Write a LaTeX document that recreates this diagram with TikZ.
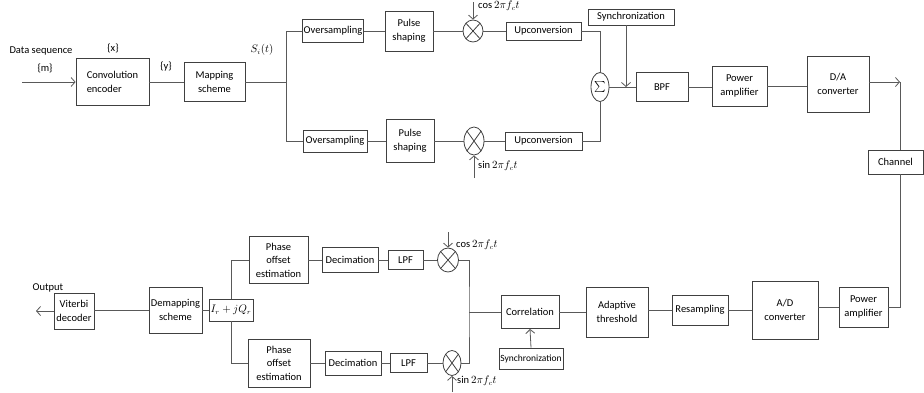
\documentclass[tikz,border=0pt]{standalone}
\usepackage{fontspec}
\setmainfont{Carlito}
\usepackage{amsmath}
\usepackage{tikz}
\usepackage{xcolor}
\usetikzlibrary{shapes.geometric,arrows.meta}

\tikzset{
  blk/.style={draw=black!75, line width=0.8pt, inner sep=1pt, align=center, font=\fontsize{10.5}{13.5}\selectfont},
  mixer/.style={draw=black!75, line width=0.8pt, ellipse, inner sep=0pt, minimum width=20pt, minimum height=24pt,
    path picture={\draw[black!75, line width=0.8pt] (path picture bounding box.north west) -- (path picture bounding box.south east)
      (path picture bounding box.north east) -- (path picture bounding box.south west);}},
  wire/.style={black!65, line width=0.8pt},
  lbl/.style={inner sep=0pt, font=\fontsize{10.5}{13.5}\selectfont},
}

\begin{document}
\begin{tikzpicture}[x=1pt, y=-1pt, >={Straight Barb[length=4pt,width=9pt]}]
        \useasboundingbox (0,0) rectangle (924,392);

        \node[blk, align=left, minimum width=73pt, minimum height=47pt] (enc) at (112.5,82) {Convolution\\encoder};
        \node[blk, minimum width=61pt, minimum height=39pt] (map) at (214.5,82) {Mapping\\scheme};
        \coordinate (split) at (286,82);
        \node[blk, minimum width=60pt, minimum height=23pt] (os1) at (333,31) {Oversampling};
        \node[blk, minimum width=48pt, minimum height=40pt] (ps1) at (409,31) {Pulse\\shaping};
        \node[mixer, minimum height=22pt] (mx1) at (473,31) {};
        \node[blk, minimum width=75pt, minimum height=18pt] (up1) at (543.5,31) {Upconversion};
        \node[blk, minimum width=64pt, minimum height=22pt] (os2) at (335,141) {Oversampling};
        \node[blk, minimum width=48pt, minimum height=43pt] (ps2) at (410,141) {Pulse\\shaping};
        \node[mixer, minimum height=28pt] (mx2) at (474,141) {};
        \node[blk, minimum width=77pt, minimum height=18pt] (up2) at (543.5,141) {Upconversion};
        \node[blk, ellipse, inner sep=0pt, minimum width=18pt, minimum height=29pt, font=\fontsize{11}{11}\selectfont] (sum) at (600,87) {$\sum$};
        \node[blk, minimum width=86pt, minimum height=16pt] (syn1) at (631,17) {Synchronization};
        \node[blk, minimum width=52pt, minimum height=29pt] (bpf) at (662,87) {BPF};
        \node[blk, minimum width=55pt, minimum height=40pt] (pa1) at (739.5,86) {Power\\amplifier};
        \node[blk, minimum width=62pt, minimum height=56pt] (da) at (838,84) {D/A\\converter};
        \node[blk, minimum width=55pt, minimum height=24pt] (chan) at (895.5,162) {Channel};
        \coordinate (src) at (22,82);
        \coordinate (c1) at (900,82);
        \coordinate (lo1) at (473,2);
        \coordinate (lo2) at (474,178);

        \node[lbl] (dseq) at (41,51) {Data sequence};
        \node[lbl] (mlbl) at (45,68) {\{m\}};
        \node[lbl] (xlbl) at (113,48) {\{x\}};
        \node[lbl] (ylbl) at (166,67) {\{y\}};
        \node[lbl] (slbl) at (262,50) {$S_i(t)$};
        \node[lbl, anchor=west] (cos1) at (478,6) {$\cos 2\pi f_c t$};
        \node[lbl, anchor=west] (sin1) at (478,166) {$\sin 2\pi f_c t$};

        \draw[wire, ->] (src) -- (enc.west);
        \draw[wire] (enc.east) -- (map.west);
        \draw[wire] (map.east) -- (split);
        \draw[wire] (split) |- (os1.west);
        \draw[wire] (split) |- (os2.west);
        \draw[wire] (os1) -- (ps1) -- (mx1) -- (up1);
        \draw[wire] (os2) -- (ps2) -- (mx2) -- (up2);
        \draw[wire, ->] (lo1) -- (mx1.north);
        \draw[wire, ->] (lo2) -- (mx2.south);
        \draw[wire] (up1.east) -| (sum.north);
        \draw[wire] (up2.east) -| (sum.south);
        \draw[wire] (sum.east) -- (bpf.west);
        \draw[wire, ->] ([xshift=-5pt]syn1.south) -- ([xshift=-5pt]syn1.south |- bpf.west);
        \draw[wire] (bpf.east) -- (bpf.east -| pa1.west);
        \draw[wire] (pa1.east) -- (pa1.east -| da.west);
        \draw[wire, ->] (da.east |- c1) -- (c1);
        \draw[wire] (c1) -- (c1 |- chan.north);

        \node[blk, minimum width=49pt, minimum height=40pt] (pa2) at (863.5,307) {Power\\amplifier};
        \node[blk, minimum width=66pt, minimum height=58pt] (ad) at (785,310) {A/D\\converter};
        \node[blk, minimum width=56pt, minimum height=30pt] (res) at (700,310) {Resampling};
        \node[blk, minimum width=62pt, minimum height=50pt] (adp) at (617,312) {Adaptive\\threshold};
        \node[blk, minimum width=58pt, minimum height=33pt] (cor) at (530,312) {Correlation};
        \node[blk, font=\fontsize{9.5}{11}\selectfont, minimum width=64pt, minimum height=21pt] (syn2) at (531,358.5) {Synchronization};
        \coordinate (jn) at (469,312);
        \node[mixer, minimum width=21pt, minimum height=24pt] (mx3) at (448,260) {};
        \node[mixer, minimum width=18pt, minimum height=25pt] (mx4) at (452,363) {};
        \node[blk, minimum width=35pt, minimum height=19pt] (lpf1) at (405.5,260) {LPF};
        \node[blk, minimum width=56pt, minimum height=25pt] (dec1) at (350,260) {Decimation};
        \node[blk, minimum width=59pt, minimum height=47pt] (poe1) at (278.5,260) {Phase\\offset\\estimation};
        \node[blk, minimum width=37pt, minimum height=19pt] (lpf2) at (408.5,363) {LPF};
        \node[blk, minimum width=56pt, minimum height=24pt] (dec2) at (353,363) {Decimation};
        \node[blk, minimum width=62pt, minimum height=48pt] (poe2) at (279,363) {Phase\\offset\\estimation};
        \node[blk, minimum width=44pt, minimum height=22pt] (iq) at (231,310) {$I_r + jQ_r$};
        \node[blk, minimum width=53pt, minimum height=46pt] (dem) at (175.5,310) {Demapping\\scheme};
        \node[blk, minimum width=40pt, minimum height=36pt] (vit) at (74,311) {Viterbi\\decoder};
        \coordinate (dst) at (36,311);
        \coordinate (lo3) at (448,232);
        \coordinate (lo4) at (452,392);

        \node[lbl] (olbl) at (48,288) {Output};
        \node[lbl, anchor=west] (cos2) at (456,245) {$\cos 2\pi f_c t$};
        \node[lbl, anchor=west] (sin2) at (457,381) {$\sin 2\pi f_c t$};

        \draw[wire] (c1 |- chan.south) |- (pa2.east);
        \draw[wire] (pa2.west) -- (pa2.west -| ad.east);
        \draw[wire] (ad.west) -- (res.east);
        \draw[wire] (res.west) -- (res.west -| adp.east);
        \draw[wire] (adp.west) -- (cor.east);
        \draw[wire] (cor.west) -- (jn);
        \draw[wire] (mx3.east) -| (jn) |- (mx4.east);
        \draw[wire, ->] (syn2.north) -- (cor.south);
        \draw[wire, ->] (lo3) -- (mx3.north);
        \draw[wire, ->] (lo4) -- (mx4.south);
        \draw[wire] (mx3) -- (lpf1) -- (dec1) -- (poe1);
        \draw[wire] (mx4) -- (lpf2) -- (dec2) -- (poe2);
        \draw[wire] (iq.north) |- (poe1.west);
        \draw[wire] (iq.south) |- (poe2.west);
        \draw[wire] (iq.west) -- (dem.east);
        \draw[wire] (dem.west) -- (dem.west -| vit.east);
        \draw[wire, ->] (vit.west) -- (dst);
    \end{tikzpicture}
\end{document}
